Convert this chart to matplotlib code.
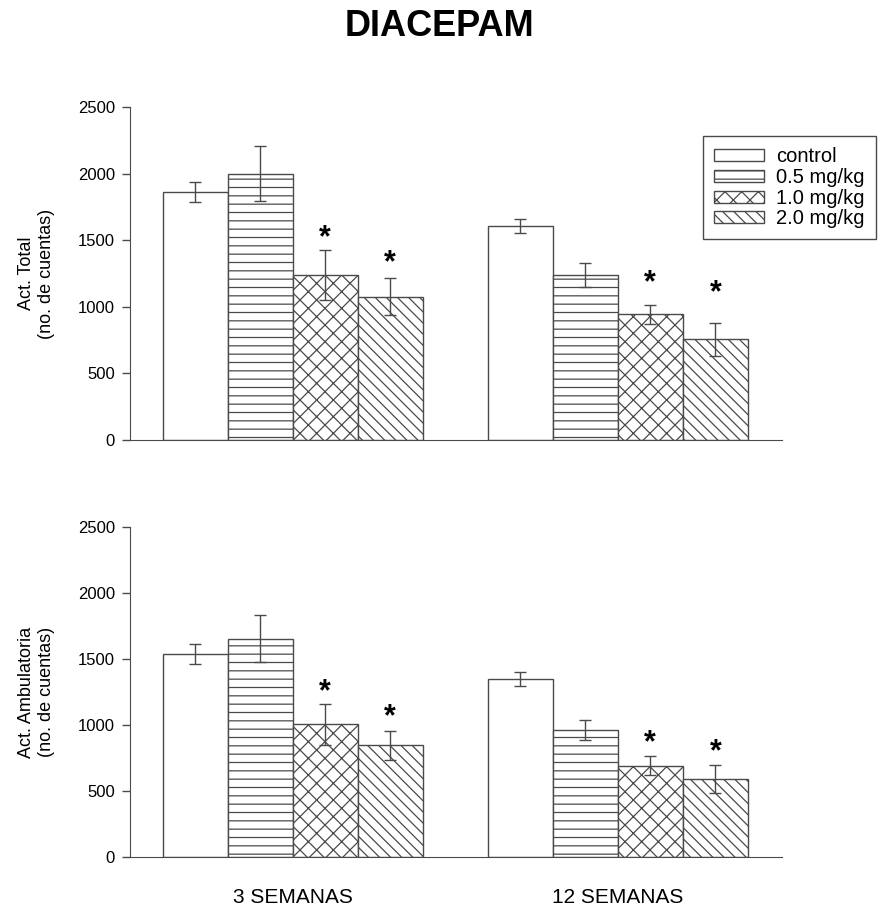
import numpy as np
import matplotlib.pyplot as plt

plt.rcParams['font.family'] = ['Liberation Sans', 'DejaVu Sans']
plt.rcParams['hatch.linewidth'] = 0.9
plt.rcParams['hatch.color'] = '#555555'

GRAY = '#4a4a4a'

groups = ['3 SEMANAS', '12 SEMANAS']
doses = ['control', '0.5 mg/kg', '1.0 mg/kg', '2.0 mg/kg']
hatches = ['', '--', 'xx', '\\\\\\']

# Act. Total, one list per dose: [3 semanas, 12 semanas]
total_control = [1865, 1607]
total_05 = [2002, 1239]
total_10 = [1239, 943]
total_20 = [1076, 756]
total_err_control = [75, 53]
total_err_05 = [210, 88]
total_err_10 = [185, 72]
total_err_20 = [140, 125]
total_star_10 = [1540, 1205]
total_star_20 = [1352, 1130]

# Act. Ambulatoria
amb_control = [1541, 1347]
amb_05 = [1655, 960]
amb_10 = [1005, 692]
amb_20 = [848, 593]
amb_err_control = [76, 52]
amb_err_05 = [180, 75]
amb_err_10 = [155, 72]
amb_err_20 = [110, 105]
amb_star_10 = [1272, 888]
amb_star_20 = [1083, 820]

yticks = [0, 500, 1000, 1500, 2000, 2500]


def draw_panel(ax, means, errs, stars, ylabel, show_x):
    centers = np.array([2.5, 7.5])
    offs = [-1.5, -0.5, 0.5, 1.5]
    bars = []
    for i in range(4):
        b = ax.bar(centers + offs[i], means[i], width=1.0, color='white',
                   edgecolor=GRAY, linewidth=1.0, hatch=hatches[i],
                   label=doses[i], zorder=2)
        bars.append(b)
        ax.errorbar(centers + offs[i], means[i], yerr=errs[i], fmt='none',
                    ecolor=GRAY, elinewidth=1.0, capsize=4, capthick=1.0,
                    zorder=3)
    for i, st in zip([2, 3], stars):
        for k in range(2):
            ax.text(centers[k] + offs[i], st[k], '*', ha='center',
                    va='center_baseline', fontsize=22, fontweight='bold')
    ax.set_xlim(0, 10.03)
    ax.set_ylim(0, 2500)
    ax.set_yticks(yticks)
    ax.tick_params(axis='y', direction='out', length=6, width=1,
                   color=GRAY, labelsize=12, pad=5)
    ax.spines['top'].set_visible(False)
    ax.spines['right'].set_visible(False)
    ax.spines['left'].set_color(GRAY)
    ax.spines['bottom'].set_color(GRAY)
    ax.set_ylabel(ylabel, fontsize=13, linespacing=1.25)
    ax.yaxis.set_label_coords(-0.115, 0.5)
    if show_x:
        ax.set_xticks(centers)
        ax.set_xticklabels(groups, fontsize=15)
        ax.tick_params(axis='x', length=0, pad=22)
    else:
        ax.set_xticks([])
    return bars


fig = plt.figure(figsize=(8.79, 9.09), dpi=100)
ax1 = fig.add_axes([0.148, 0.516, 0.742, 0.366])
ax2 = fig.add_axes([0.148, 0.0572, 0.742, 0.363])

bars = draw_panel(ax1,
                  [total_control, total_05, total_10, total_20],
                  [total_err_control, total_err_05, total_err_10, total_err_20],
                  [total_star_10, total_star_20],
                  'Act. Total\n(no. de cuentas)', False)
draw_panel(ax2,
           [amb_control, amb_05, amb_10, amb_20],
           [amb_err_control, amb_err_05, amb_err_10, amb_err_20],
           [amb_star_10, amb_star_20],
           'Act. Ambulatoria\n(no. de cuentas)', True)

leg = fig.legend(handles=bars, loc='upper right',
                 bbox_to_anchor=(1.008, 0.861), fontsize=14.5,
                 handlelength=2.5, handleheight=0.55, handletextpad=0.6,
                 labelspacing=0.08, borderpad=0.55, fancybox=False,
                 framealpha=1, edgecolor=GRAY)
leg.get_frame().set_linewidth(1.0)

fig.text(0.5, 1 - 36 / 909, 'DIACEPAM', ha='center', va='baseline',
         fontsize=26, fontweight='bold')

fig.savefig('out.png', dpi=100, facecolor='white')
